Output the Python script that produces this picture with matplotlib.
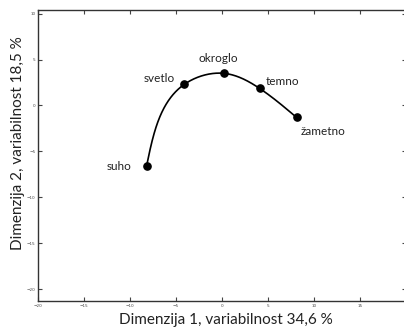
import numpy as np
import matplotlib
matplotlib.use("Agg")
import matplotlib.pyplot as plt

# Perceptual map: descriptor positions in the first two dimensions
labels = ["suho", "svetlo", "okroglo", "temno", "žametno"]
dim1 = [-8.2, -4.1, 0.2, 4.1, 8.1]
dim2 = [-6.6, 2.3, 3.5, 1.85, -1.3]

x_ticks = [-20, -15, -10, -5, 0, 5, 10, 15]
y_ticks = [-20, -15, -10, -5, 0, 5, 10]


def natural_spline(t, v, tt):
    """Evaluate a natural cubic spline through (t, v) at tt."""
    n = len(t)
    h = np.diff(t)
    A = np.zeros((n, n))
    r = np.zeros(n)
    A[0, 0] = A[-1, -1] = 1.0
    for i in range(1, n - 1):
        A[i, i - 1] = h[i - 1]
        A[i, i] = 2 * (h[i - 1] + h[i])
        A[i, i + 1] = h[i]
        r[i] = 3 * ((v[i + 1] - v[i]) / h[i] - (v[i] - v[i - 1]) / h[i - 1])
    c = np.linalg.solve(A, r)
    b = np.diff(v) / h - h * (2 * c[:-1] + c[1:]) / 3
    d = np.diff(c) / (3 * h)
    k = np.clip(np.searchsorted(t, tt) - 1, 0, n - 2)
    s = tt - t[k]
    return v[k] + b[k] * s + c[k] * s ** 2 + d[k] * s ** 3


fig = plt.figure(figsize=(4.04, 3.33), dpi=100)
ax = fig.add_axes([38 / 404, 1 - 301 / 333, 368 / 404, 291 / 333])

# Smooth parametric curve through the points (chord-length parameter)
x = np.asarray(dim1)
y = np.asarray(dim2)
t = np.concatenate([[0], np.cumsum(np.hypot(np.diff(x), np.diff(y)))])
tt = np.linspace(0, t[-1], 400)
ax.plot(natural_spline(t, x, tt), natural_spline(t, y, tt),
        color="black", lw=1.2, zorder=2)
ax.plot(x, y, "o", color="black", ms=5.2, zorder=3)

font = "Lato"
offsets = {
    "suho": (-11, 0, "right", "center"),
    "svetlo": (-7, 4, "right", "center"),
    "okroglo": (-4, 11, "center", "center"),
    "temno": (4.5, 5, "left", "center"),
    "žametno": (3, -10, "left", "center"),
}
for lab, xi, yi in zip(labels, dim1, dim2):
    dx, dy, ha, va = offsets[lab]
    ax.annotate(lab, (xi, yi), xytext=(dx, dy), textcoords="offset points",
                ha=ha, va=va, fontsize=8.5, family=font, color="#222222")

ax.set_xlim(-20, 20)
ax.set_ylim(-21.3, 10.4)
ax.set_xticks(x_ticks)
ax.set_yticks(y_ticks)
ax.tick_params(direction="in", length=3, width=0.8, top=True, right=True,
               labelsize=3, colors="#444444", pad=2)
for s in ax.spines.values():
    s.set_linewidth(1.0)
    s.set_color("#333333")

fig.text(226 / 404, 1 - 320 / 333, "Dimenzija 1, variabilnost 34,6 %",
         ha="center", va="center", fontsize=11, family=font, color="#222222")
fig.text(18 / 404, 1 - 143 / 333, "Dimenzija 2, variabilnost 18,5 %",
         ha="center", va="center", rotation=90, fontsize=11, family=font,
         color="#222222")

fig.savefig("out.png", dpi=100)
